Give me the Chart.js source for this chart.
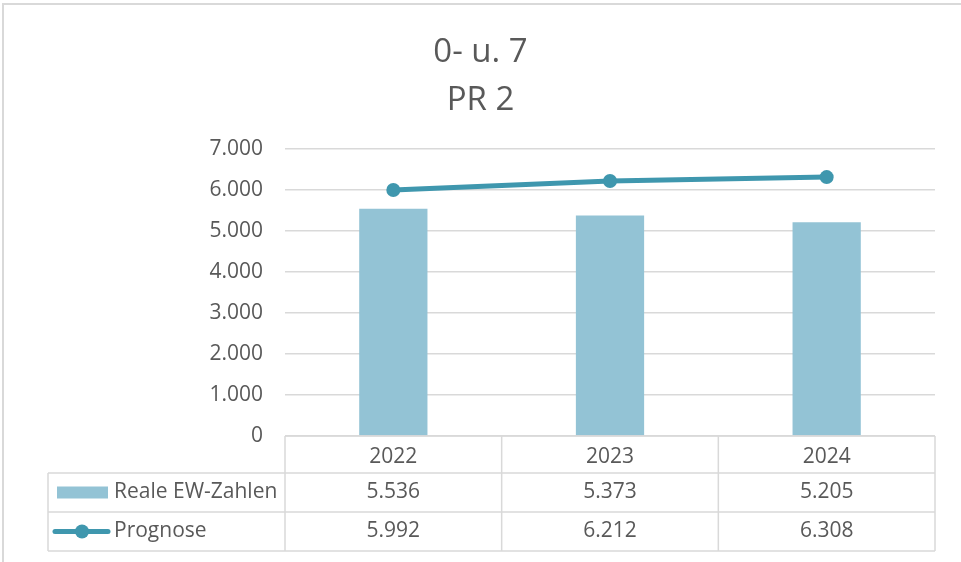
<!DOCTYPE html>
<html>
<head>
<meta charset="utf-8">
<script src="https://cdn.jsdelivr.net/npm/chart.js@4/dist/chart.umd.min.js"></script>
<style>
  html, body { margin: 0; padding: 0; background: #fff; }
  #wrap { width: 961px; height: 562px; position: relative; }
</style>
</head>
<body>
<div id="wrap"><canvas id="chart" width="961" height="562"></canvas></div>
<script>
// data
const years = ["2022", "2023", "2024"];
const realValues = [5536, 5373, 5205];
const forecastValues = [5992, 6212, 6308];
const seriesNames = ["Reale EW-Zahlen", "Prognose"];
const titleLines = ["0- u. 7", "PR 2"];

const barColor = "#93C3D5";
const lineColor = "#3F97AE";
const textColor = "#595959";
const gridColor = "#D9D9D9";
const fontFamily = "'Open Sans', 'Noto Sans', sans-serif";
const textSize = 21;

const fmt = (v) => Number(v).toLocaleString("de-DE");

// draws the data table under the plot + the outer frame
const tablePlugin = {
    id: "dataTable",
    afterDraw(chart) {
        const ctx = chart.ctx;
        const x = chart.scales.x;
        const area = chart.chartArea;
        const n = years.length;
        const catW = (area.right - area.left) / n;
        const top = area.bottom;
        const headH = 37;
        const rowH = 39;
        const leftX = 48;
        const row1 = top + headH;
        const row2 = row1 + rowH;
        const bottom = row2 + rowH;

        ctx.save();
        // frame (top + left only)
        ctx.strokeStyle = "#D9D9D9";
        ctx.lineWidth = 2;
        ctx.beginPath();
        ctx.moveTo(3, 562);
        ctx.lineTo(3, 4);
        ctx.lineTo(961, 4);
        ctx.stroke();

        ctx.strokeStyle = gridColor;
        ctx.lineWidth = 1.5;
        ctx.beginPath();
        ctx.moveTo(area.left, top); ctx.lineTo(area.right, top);
        [row1, row2, bottom].forEach(y => { ctx.moveTo(leftX, y); ctx.lineTo(area.right, y); });
        for (let i = 0; i <= n; i++) {
            const xx = area.left + i * catW;
            ctx.moveTo(xx, top); ctx.lineTo(xx, bottom);
        }
        ctx.moveTo(leftX, row1); ctx.lineTo(leftX, bottom);
        ctx.stroke();

        ctx.font = textSize + "px " + fontFamily;
        ctx.fillStyle = textColor;
        ctx.textAlign = "center";
        ctx.textBaseline = "middle";
        const rows = [realValues, forecastValues];
        rows.forEach((vals, r) => {
            const cy = row1 + r * rowH + rowH / 2;
            vals.forEach((v, i) => {
                ctx.fillText(fmt(v), x.getPixelForValue(i), cy);
            });
        });

        // legend keys
        const cy1 = row1 + rowH / 2;
        const cy2 = row2 + rowH / 2;
        ctx.fillStyle = barColor;
        ctx.fillRect(57, cy1 - 6, 51, 12);
        ctx.strokeStyle = lineColor;
        ctx.lineWidth = 5;
        ctx.lineCap = "round";
        ctx.beginPath();
        ctx.moveTo(55, cy2); ctx.lineTo(108, cy2);
        ctx.stroke();
        ctx.fillStyle = lineColor;
        ctx.beginPath();
        ctx.arc(82, cy2, 7, 0, Math.PI * 2);
        ctx.fill();

        ctx.fillStyle = textColor;
        ctx.textAlign = "left";
        ctx.fillText(seriesNames[0], 114, cy1);
        ctx.fillText(seriesNames[1], 114, cy2);
        ctx.restore();
    }
};

new Chart(document.getElementById("chart"), {
    data: {
        labels: years,
        datasets: [
            {
                type: "line",
                label: seriesNames[1],
                data: forecastValues,
                borderColor: lineColor,
                backgroundColor: lineColor,
                borderWidth: 5,
                pointRadius: 7,
                pointHoverRadius: 7,
                pointBackgroundColor: lineColor,
                pointBorderWidth: 0,
                order: 0
            },
            {
                type: "bar",
                label: seriesNames[0],
                data: realValues,
                backgroundColor: barColor,
                categoryPercentage: 1,
                barPercentage: 0.315,
                order: 1
            }
        ]
    },
    options: {
        responsive: false,
        animation: false,
        locale: "de-DE",
        layout: { padding: { left: 0, right: 0, top: 21, bottom: 0 } },
        plugins: {
            legend: { display: false },
            tooltip: { enabled: false },
            title: {
                display: true,
                text: titleLines,
                color: textColor,
                font: { family: fontFamily, size: 33, weight: "normal", lineHeight: 1.45 },
                padding: { top: 8, bottom: 24 }
            }
        },
        scales: {
            x: {
                grid: { display: false, drawTicks: false },
                border: { display: false },
                ticks: { color: textColor, font: { family: fontFamily, size: textSize }, padding: 8 },
                afterFit: (s) => { s.height = 126; }
            },
            y: {
                min: 0,
                max: 7000,
                grid: { color: gridColor, lineWidth: 1.5, drawTicks: false },
                border: { display: false },
                ticks: {
                    stepSize: 1000,
                    color: textColor,
                    font: { family: fontFamily, size: textSize },
                    padding: 22,
                    callback: (v) => fmt(v)
                },
                afterFit: (s) => { s.width = 285; }
            },
            // empty right-hand strip so the title centres on the whole canvas
            yRight: {
                position: "right",
                display: true,
                grid: { display: false, drawTicks: false },
                border: { display: false },
                ticks: { display: false },
                afterFit: (s) => { s.width = 26; }
            }
        }
    },
    plugins: [tablePlugin]
});
</script>
</body>
</html>
